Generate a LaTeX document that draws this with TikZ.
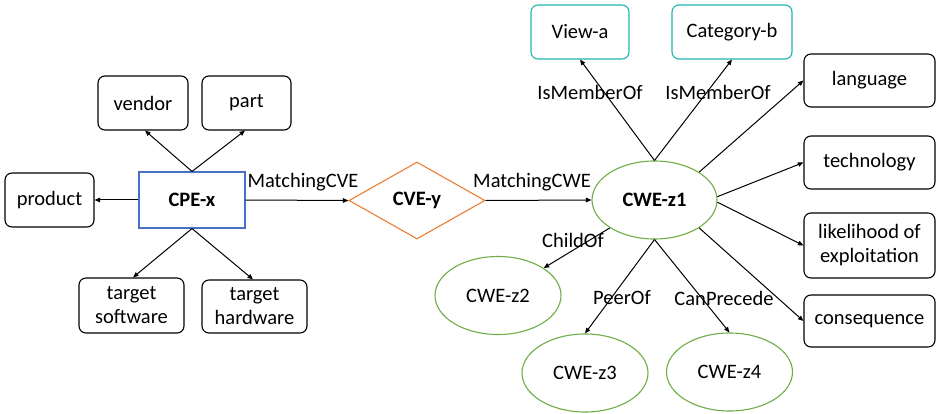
\documentclass[tikz,border=0pt]{standalone}
\usepackage{fontspec}
\setmainfont{Carlito}
\usetikzlibrary{shapes.geometric,arrows.meta}
\definecolor{cblue}{HTML}{4472C4}
\definecolor{corange}{HTML}{ED7D31}
\definecolor{cgreen}{HTML}{70AD47}
\definecolor{cteal}{HTML}{1FB5AA}
\begin{document}
\begin{tikzpicture}[x=1pt,y=-1pt,
  every node/.style={font=\fontsize{20.5}{24}\selectfont, inner sep=0pt},
  attr/.style={draw=black, line width=1.1pt, rounded corners=7pt, align=center},
  member/.style={draw=cteal, line width=1.1pt, rounded corners=7pt},
  cwe/.style={draw=cgreen, ellipse, line width=1.1pt, minimum width=126pt, minimum height=78pt},
  conn/.style={line width=1pt, -{Triangle[length=5.5pt,width=4.5pt]}},
  bfnode/.style={font=\fontsize{20.5}{24}\selectfont\bfseries}]
\useasboundingbox (0,0) rectangle (937,414);
% CPE side
\node[draw=cblue, line width=1.1pt, minimum width=106pt, minimum height=56pt, bfnode] (cpe) at (192,200) {CPE-x};
\node[attr, minimum width=90pt, minimum height=54pt] (vendor) at (143,103) {vendor};
\node[attr, minimum width=89pt, minimum height=54pt] (part) at (246.5,103) {part};
\node[attr, minimum width=89pt, minimum height=54pt] (product) at (49.5,200) {product};
\node[attr, minimum width=105pt, minimum height=55pt] (tsw) at (131.5,305.5) {target\\software};
\node[attr, minimum width=105pt, minimum height=53pt] (thw) at (254.5,306.5) {target\\hardware};
\draw[conn] (cpe.north) -- (vendor.south -| 145,0);
\draw[conn] (cpe.north) -- (part.south -| 245,0);
\draw[conn] (cpe.west) -- (product.east);
\draw[conn] (cpe.south) -- (tsw.north -| 133,0);
\draw[conn] (cpe.south) -- (thw.north -| 253,0);
% CVE
\node[draw=corange, diamond, line width=1.1pt, minimum width=136pt, minimum height=77pt, aspect=1.77, bfnode] (cve) at (417,200.5) {CVE-y};
\draw[conn] (cpe.east) -- (cve.west);
\node (lmcve) at (303,182) {MatchingCVE};
% CWE z1
\node[cwe, bfnode, minimum width=125pt] (z1) at (654.5,200) {CWE-z1};
\draw[conn] (cve.east) -- (z1.west);
\node (lmcwe) at (532,182) {MatchingCWE};
% members
\node[member, minimum width=98pt, minimum height=54pt] (view) at (580,32) {View-a};
\node[member, minimum width=120pt, minimum height=54pt] (cat) at (732,32) {Category-b};
\draw[conn] (z1.north) -- (view.south);
\draw[conn] (z1.north) -- (cat.south);
\node (im1) at (590,92) {IsMemberOf};
\node (im2) at (718,92) {IsMemberOf};
% right attributes
\node[attr, minimum width=131pt, minimum height=53pt] (lang) at (869.5,80.5) {language};
\node[attr, minimum width=131pt, minimum height=53pt] (tech) at (869.5,162.5) {technology};
\node[attr, minimum width=131pt, minimum height=65pt] (like) at (869.5,245.5) {likelihood of\\exploitation};
\node[attr, minimum width=131pt, minimum height=52pt] (cons) at (869.5,321) {consequence};
\draw[conn] (z1.32) -- (lang.west);
\draw[conn] (z1.3) -- (tech.west);
\draw[conn] (z1.-2) -- (like.west);
\draw[conn] (z1.-32) -- (cons.west);
% lower CWEs
\node[cwe] (z2) at (498,295.5) {CWE-z2};
\node[cwe] (z3) at (585,373) {CWE-z3};
\node[cwe] (z4) at (729.5,372) {CWE-z4};
\draw[conn] (z1.212) -- (z2.31);
\draw[conn] (z1.south) -- (z3.north);
\draw[conn] (z1.south) -- (z4.north);
\node (lch) at (573,240) {ChildOf};
\node (lpe) at (622,298) {PeerOf};
\node (lcp) at (724,298) {CanPrecede};
\end{tikzpicture}
\end{document}
